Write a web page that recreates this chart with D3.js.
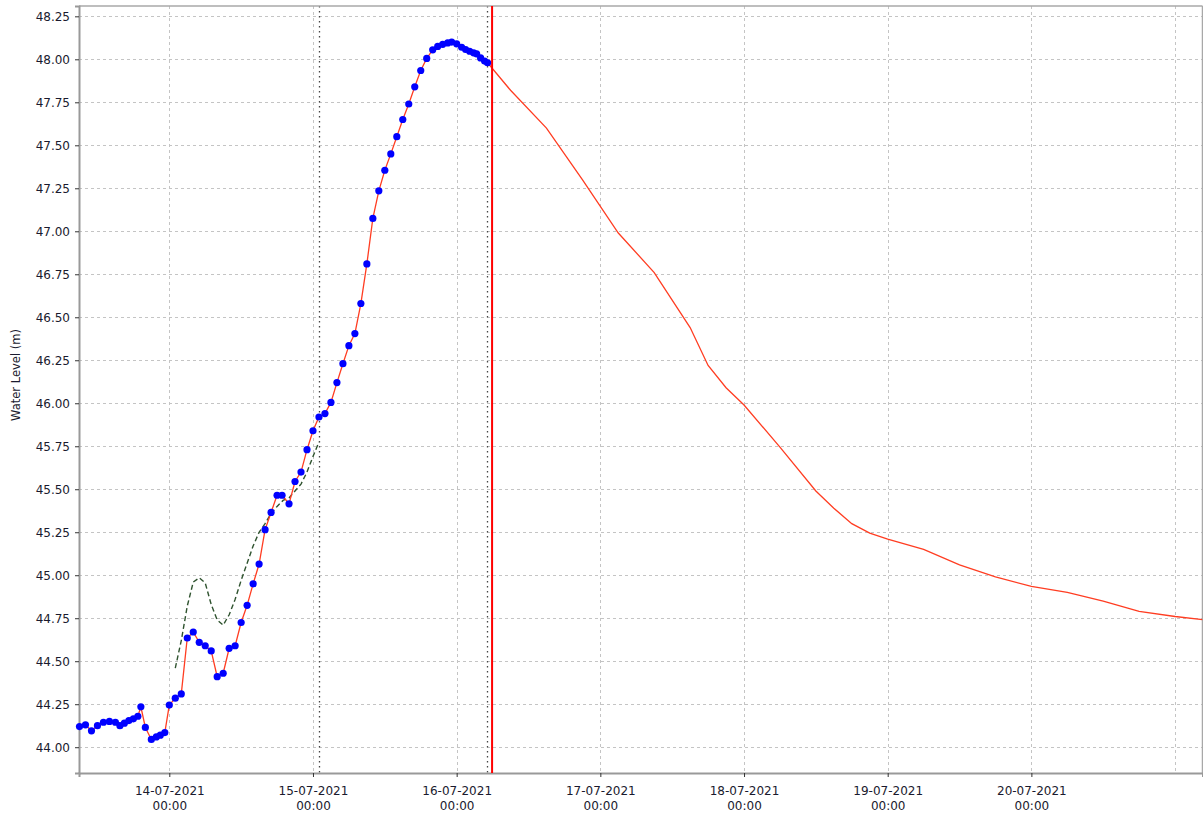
<!DOCTYPE html>
<html>
<head>
<meta charset="utf-8">
<script src="https://cdn.jsdelivr.net/npm/d3@7"></script>
<style>
  html, body { margin: 0; padding: 0; background: #ffffff; }
  svg { display: block; }
  text { font-family: "DejaVu Sans", Verdana, sans-serif; }
</style>
</head>
<body>
<script>
// ---------------- data ----------------
const obsTimes = [
  "2021-07-13 09:00","2021-07-13 10:00","2021-07-13 11:00","2021-07-13 12:00","2021-07-13 13:00",
  "2021-07-13 14:00","2021-07-13 15:00","2021-07-13 15:45","2021-07-13 16:30","2021-07-13 17:15",
  "2021-07-13 18:00","2021-07-13 18:45","2021-07-13 19:15","2021-07-13 20:00","2021-07-13 21:00",
  "2021-07-13 21:50","2021-07-13 22:30","2021-07-13 23:15",
  "2021-07-14 00:00","2021-07-14 01:00","2021-07-14 02:00","2021-07-14 03:00","2021-07-14 04:00",
  "2021-07-14 05:00","2021-07-14 06:00","2021-07-14 07:00","2021-07-14 08:00","2021-07-14 09:00",
  "2021-07-14 10:00","2021-07-14 11:00","2021-07-14 12:00","2021-07-14 13:00","2021-07-14 14:00",
  "2021-07-14 15:00","2021-07-14 16:00","2021-07-14 17:00","2021-07-14 18:00","2021-07-14 18:50",
  "2021-07-14 20:00","2021-07-14 21:00","2021-07-14 22:00","2021-07-14 23:00",
  "2021-07-15 00:00","2021-07-15 01:00","2021-07-15 02:00","2021-07-15 03:00","2021-07-15 04:00",
  "2021-07-15 05:00","2021-07-15 06:00","2021-07-15 07:00","2021-07-15 08:00","2021-07-15 09:00",
  "2021-07-15 10:00","2021-07-15 11:00","2021-07-15 12:00","2021-07-15 13:00","2021-07-15 14:00",
  "2021-07-15 15:00","2021-07-15 16:00","2021-07-15 17:00","2021-07-15 18:00","2021-07-15 19:00",
  "2021-07-15 20:00","2021-07-15 20:50","2021-07-15 21:40","2021-07-15 22:30","2021-07-15 23:10",
  "2021-07-16 00:00","2021-07-16 00:50","2021-07-16 01:30","2021-07-16 02:10","2021-07-16 02:50",
  "2021-07-16 03:20","2021-07-16 04:00","2021-07-16 04:40","2021-07-16 05:10"
];
const obsValues = [
  44.12, 44.13, 44.095, 44.125, 44.145,
  44.15, 44.145, 44.125, 44.14, 44.155,
  44.165, 44.18, 44.235, 44.115, 44.045,
  44.06, 44.07, 44.085,
  44.245, 44.285, 44.31, 44.635, 44.67,
  44.61, 44.59, 44.56, 44.41, 44.43,
  44.575, 44.59, 44.725, 44.825, 44.95,
  45.065, 45.265, 45.365, 45.465, 45.465,
  45.415, 45.545, 45.60, 45.73,
  45.84, 45.92, 45.94, 46.005, 46.12,
  46.23, 46.335, 46.405, 46.58, 46.81,
  47.075, 47.235, 47.355, 47.45, 47.55,
  47.65, 47.74, 47.84, 47.935, 48.005,
  48.055, 48.075, 48.087, 48.095, 48.10,
  48.09, 48.07, 48.057, 48.047, 48.038,
  48.032, 48.008, 47.99, 47.98
];

const modelTimes = [
  "2021-07-14 01:00","2021-07-14 02:00","2021-07-14 03:00","2021-07-14 04:00","2021-07-14 05:00",
  "2021-07-14 06:00","2021-07-14 07:00","2021-07-14 08:00","2021-07-14 09:00","2021-07-14 10:00",
  "2021-07-14 11:00","2021-07-14 12:00","2021-07-14 13:00","2021-07-14 14:00","2021-07-14 15:00",
  "2021-07-14 16:00","2021-07-14 17:00","2021-07-14 18:00","2021-07-14 19:00","2021-07-14 20:00",
  "2021-07-14 21:00","2021-07-14 22:00","2021-07-14 23:00","2021-07-15 00:00","2021-07-15 01:00"
];
const modelValues = [
  44.46, 44.62, 44.82, 44.96, 44.985,
  44.955, 44.83, 44.74, 44.71, 44.77,
  44.86, 44.97, 45.07, 45.17, 45.25,
  45.30, 45.36, 45.40, 45.435, 45.45,
  45.49, 45.53, 45.60, 45.69, 45.775
];

const forecastTimes = [
  "2021-07-16 05:10","2021-07-16 09:00","2021-07-16 15:00","2021-07-16 21:00","2021-07-17 03:00",
  "2021-07-17 09:00","2021-07-17 15:00","2021-07-17 18:00","2021-07-17 21:00","2021-07-18 00:00",
  "2021-07-18 06:00","2021-07-18 12:00","2021-07-18 15:00","2021-07-18 18:00","2021-07-18 21:00",
  "2021-07-19 00:00","2021-07-19 06:00","2021-07-19 12:00","2021-07-19 18:00","2021-07-20 00:00",
  "2021-07-20 06:00","2021-07-20 12:00","2021-07-20 18:00","2021-07-21 00:00","2021-07-21 04:35"
];
const forecastValues = [
  47.98, 47.82, 47.60, 47.30, 46.99,
  46.76, 46.44, 46.22, 46.09, 45.99,
  45.745, 45.49, 45.39, 45.30, 45.245,
  45.21, 45.15, 45.06, 44.99, 44.935,
  44.90, 44.85, 44.79, 44.76, 44.742
];

const yTicks = [44.00, 44.25, 44.50, 44.75, 45.00, 45.25, 45.50, 45.75, 46.00, 46.25, 46.50,
                46.75, 47.00, 47.25, 47.50, 47.75, 48.00, 48.25];
const xTickDays = ["2021-07-14 00:00","2021-07-15 00:00","2021-07-16 00:00","2021-07-17 00:00",
                   "2021-07-18 00:00","2021-07-19 00:00","2021-07-20 00:00","2021-07-21 00:00"];
const markerTimes = ["2021-07-15 01:00", "2021-07-16 05:00"];
const nowTime = "2021-07-16 05:55";
const xDomain = ["2021-07-13 08:55", "2021-07-21 04:35"];
const yDomain = [43.85, 48.31];
const yTitle = "Water Level (m)";

// ---------------- drawing ----------------
const W = 1203, H = 815;
const plot = { left: 79, right: 1202.5, top: 6, bottom: 773 };
const parse = d3.timeParse("%Y-%m-%d %H:%M");

const x = d3.scaleTime().domain(xDomain.map(parse)).range([plot.left, plot.right]);
const y = d3.scaleLinear().domain(yDomain).range([plot.bottom, plot.top]);

const svg = d3.select("body").append("svg").attr("width", W).attr("height", H);

// grid
const grid = svg.append("g");
grid.selectAll("line.h").data(yTicks).enter().append("line")
  .attr("x1", plot.left).attr("x2", plot.right)
  .attr("y1", d => Math.round(y(d)) + 0.5).attr("y2", d => Math.round(y(d)) + 0.5)
  .attr("stroke", "#c4c4c4").attr("stroke-width", 1).attr("stroke-dasharray", "3,3");
grid.selectAll("line.v").data(xTickDays.map(parse)).enter().append("line")
  .attr("x1", d => Math.round(x(d)) + 0.5).attr("x2", d => Math.round(x(d)) + 0.5)
  .attr("y1", plot.top).attr("y2", plot.bottom)
  .attr("stroke", "#c4c4c4").attr("stroke-width", 1).attr("stroke-dasharray", "3,3");

// marker dotted lines
svg.append("g").selectAll("line").data(markerTimes.map(parse)).enter().append("line")
  .attr("x1", d => Math.round(x(d)) + 0.5).attr("x2", d => Math.round(x(d)) + 0.5)
  .attr("y1", plot.top).attr("y2", plot.bottom)
  .attr("stroke", "#444444").attr("stroke-width", 1.3).attr("stroke-dasharray", "1.5,3.5");

// frame / axes
svg.append("line").attr("x1", plot.left).attr("x2", plot.right).attr("y1", plot.top).attr("y2", plot.top)
  .attr("stroke", "#a8a8a8").attr("stroke-width", 1.5);
svg.append("line").attr("x1", plot.right).attr("x2", plot.right).attr("y1", plot.top).attr("y2", plot.bottom)
  .attr("stroke", "#a8a8a8").attr("stroke-width", 1.5);

const yAxis = d3.axisLeft(y).tickValues(yTicks).tickFormat(d3.format(".2f")).tickSize(4).tickPadding(5);
const gy = svg.append("g").attr("transform", `translate(${plot.left},0)`).call(yAxis);
gy.select(".domain").attr("stroke", "#999999").attr("stroke-width", 2);
gy.selectAll(".tick line").attr("stroke", "#333333");
gy.selectAll(".tick text").attr("font-size", "12px").attr("fill", "#1a1a2e")
  .attr("font-family", "DejaVu Sans, Verdana, sans-serif");

const xAxis = d3.axisBottom(x).tickValues(xTickDays.map(parse)).tickSize(4).tickFormat("");
const gx = svg.append("g").attr("transform", `translate(0,${plot.bottom})`).call(xAxis);
gx.select(".domain").attr("stroke", "#999999").attr("stroke-width", 2);
gx.selectAll(".tick line").attr("stroke", "#333333");
const fmtDate = d3.timeFormat("%d-%m-%Y"), fmtTime = d3.timeFormat("%H:%M");
gx.selectAll(".tick").each(function (d) {
  const px = x(d);
  const t = d3.select(this).select("text");
  if (px + 36 > W) { t.remove(); d3.select(this).select("line").remove(); return; }
  t.text(null).attr("y", 0).attr("dy", null)
    .attr("font-size", "12px").attr("fill", "#1a1a2e")
    .attr("font-family", "DejaVu Sans, Verdana, sans-serif");
  t.append("tspan").attr("x", 0).attr("y", 22).text(fmtDate(d));
  t.append("tspan").attr("x", 0).attr("y", 37).text(fmtTime(d));
});

// y title
svg.append("text")
  .attr("transform", `translate(20,${375}) rotate(-90)`)
  .attr("text-anchor", "middle").attr("font-size", "11.5px").attr("fill", "#1a1a2e")
  .text(yTitle);

// clip
svg.append("clipPath").attr("id", "clip").append("rect")
  .attr("x", plot.left).attr("y", plot.top).attr("width", plot.right - plot.left).attr("height", plot.bottom - plot.top);

const obs = obsTimes.map((t, i) => ({ t: parse(t), v: obsValues[i] }));
const model = modelTimes.map((t, i) => ({ t: parse(t), v: modelValues[i] }));
const fc = forecastTimes.map((t, i) => ({ t: parse(t), v: forecastValues[i] }));
const redSeries = obs.concat(fc.slice(1));

const line = d3.line().x(d => x(d.t)).y(d => y(d.v));

// dashed model line
svg.append("path").datum(model).attr("d", line).attr("fill", "none")
  .attr("stroke", "#2f532f").attr("stroke-width", 1.4).attr("stroke-dasharray", "5,3");

// red line
svg.append("path").datum(redSeries).attr("d", line).attr("fill", "none").attr("clip-path", "url(#clip)")
  .attr("stroke", "#ff3d22").attr("stroke-width", 1.3);

// now line
svg.append("line")
  .attr("x1", x(parse(nowTime))).attr("x2", x(parse(nowTime)))
  .attr("y1", plot.top).attr("y2", plot.bottom)
  .attr("stroke", "#ff0000").attr("stroke-width", 2);

// observed dots
svg.append("g").selectAll("circle").data(obs).enter().append("circle")
  .attr("cx", d => x(d.t)).attr("cy", d => y(d.v)).attr("r", 3.6)
  .attr("fill", "#0000ff");
</script>
</body>
</html>
